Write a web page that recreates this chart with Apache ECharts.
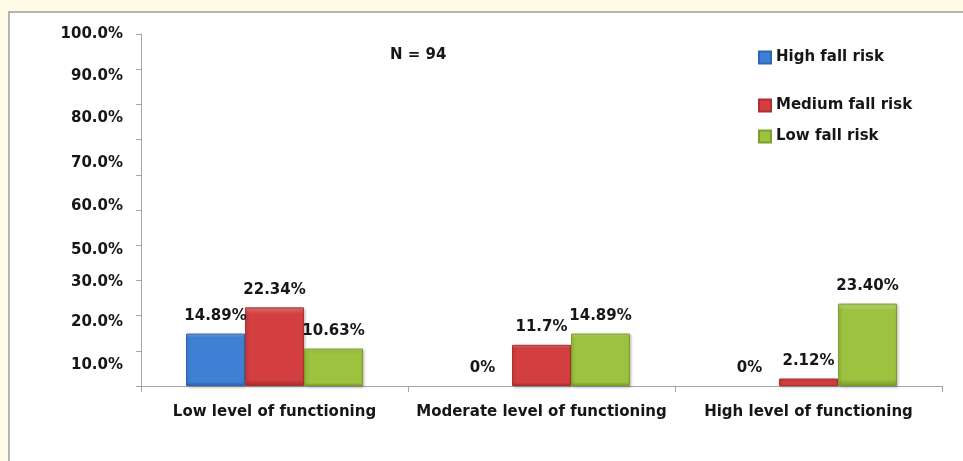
<!DOCTYPE html>
<html>
<head>
<meta charset="utf-8">
<script src="https://cdn.jsdelivr.net/npm/echarts@6/dist/echarts.min.js"></script>
<style>
  html, body { margin: 0; padding: 0; background: #fffbe6; }
  #wrap { position: relative; width: 963px; height: 461px; overflow: hidden; }
  #panel { position: absolute; left: 8px; top: 11px; right: -4px; bottom: -4px;
           background: #ffffff; border-top: 2px solid #b4b4b4; border-left: 2px solid #b4b4b4; }
  #chart { position: absolute; left: 0; top: 0; width: 963px; height: 461px; }
</style>
</head>
<body>
<div id="wrap">
  <div id="panel"></div>
  <div id="chart"></div>
</div>
<script>
// Functioning level groups
const categories = ['Low level of functioning', 'Moderate level of functioning', 'High level of functioning'];

// Percent of participants per fall-risk group (text kept as printed on the bars)
const highFallRisk   = ['14.89', '0', '0'];
const mediumFallRisk = ['22.34', '11.7', '2.12'];
const lowFallRisk    = ['10.63', '14.89', '23.40'];

const seriesNames = ['High fall risk', 'Medium fall risk', 'Low fall risk'];

// Y-axis tick labels and where each one sits on the 0-100 scale
const yTickLabels = ['10.0%', '20.0%', '30.0%', '50.0%', '60.0%', '70.0%', '80.0%', '90.0%', '100.0%'];
const yLabelSpots = [6, 18.2, 29.6, 38.5, 51, 63.4, 76, 88.1, 100];

const FONT = 'DejaVu Sans';
const TEXT = '#161616';

function bevel(top, mid, bottom) {
  return new echarts.graphic.LinearGradient(0, 0, 0, 1, [
    { offset: 0, color: top },
    { offset: 0.08, color: mid },
    { offset: 0.92, color: mid },
    { offset: 1, color: bottom }
  ]);
}

const barStyles = [
  { color: bevel('#7fa9e6', '#3f7fd4', '#2c62ad'), borderColor: '#2f66b3' },
  { color: bevel('#e57d7d', '#d33f40', '#a82a2b'), borderColor: '#ad2f30' },
  { color: bevel('#c4dc7c', '#9cc23f', '#7a9a2c'), borderColor: '#7d9d2f' }
];
const legendColors = ['#3f7fd4', '#d33f40', '#9cc23f'];

// A zero share gets no visible bar, only its "0%" label
const hiddenBar = {
  color: 'transparent', borderWidth: 0, borderColor: 'transparent',
  shadowBlur: 0, shadowOffsetX: 0, shadowOffsetY: 0, shadowColor: 'transparent'
};
function toItems(values) {
  return values.map(v => Number(v) === 0
    ? { value: v, itemStyle: hiddenBar }
    : { value: v });
}

function makeSeries(name, values, i) {
  return {
    name: name,
    type: 'bar',
    data: toItems(values),
    barWidth: 59,
    barGap: '0%',
    itemStyle: {
      color: barStyles[i].color,
      borderColor: barStyles[i].borderColor,
      borderWidth: 1,
      shadowColor: 'rgba(0,0,0,0.25)',
      shadowBlur: 3,
      shadowOffsetX: 1,
      shadowOffsetY: 1
    },
    label: {
      show: true,
      position: 'top',
      distance: 10,
      fontFamily: FONT,
      fontWeight: 'bold',
      fontSize: 15,
      color: TEXT,
      formatter: p => p.data.value + '%'
    }
  };
}

const legendTops = [50, 98, 129];

const chart = echarts.init(document.getElementById('chart'), null, { renderer: 'canvas' });
chart.setOption({
  backgroundColor: 'transparent',
  animation: false,
  title: {
    text: 'N = 94',
    left: 390,
    top: 48,
    padding: 0,
    textStyle: { fontFamily: FONT, fontWeight: 'bold', fontSize: 15, color: TEXT }
  },
  legend: seriesNames.map((n, i) => ({
    data: [{ name: n, itemStyle: { color: legendColors[i] } }],
    left: 758,
    top: legendTops[i],
    padding: 0,
    icon: 'rect',
    itemWidth: 12,
    itemHeight: 12,
    selectedMode: false,
    textStyle: { fontFamily: FONT, fontWeight: 'bold', fontSize: 15, color: TEXT }
  })),
  grid: { left: 141, right: 21, top: 34, bottom: 75, containLabel: false },
  xAxis: {
    type: 'category',
    data: categories,
    axisLine: { lineStyle: { color: '#a6a6a6', width: 1 } },
    axisTick: { show: true, alignWithLabel: false, length: 6, lineStyle: { color: '#a6a6a6' } },
    axisLabel: {
      margin: 19,
      fontFamily: FONT,
      fontWeight: 'bold',
      fontSize: 15,
      color: TEXT,
      interval: 0
    }
  },
  yAxis: {
    type: 'value',
    min: 0,
    max: 100,
    interval: 10,
    splitLine: { show: false },
    axisLine: { show: true, lineStyle: { color: '#a6a6a6', width: 1 } },
    axisTick: { show: true, length: 5, lineStyle: { color: '#a6a6a6' },
                customValues: [0, 10, 20, 30, 40, 50, 60, 70, 80, 90, 100] },
    axisLabel: {
      margin: 18,
      fontFamily: FONT,
      fontWeight: 'bold',
      fontSize: 15,
      color: TEXT,
      customValues: yLabelSpots,
      formatter: v => {
        const k = yLabelSpots.indexOf(v);
        return k >= 0 ? yTickLabels[k] : '';
      }
    }
  },
  series: [
    makeSeries(seriesNames[0], highFallRisk, 0),
    makeSeries(seriesNames[1], mediumFallRisk, 1),
    makeSeries(seriesNames[2], lowFallRisk, 2)
  ]
});
</script>
</body>
</html>
